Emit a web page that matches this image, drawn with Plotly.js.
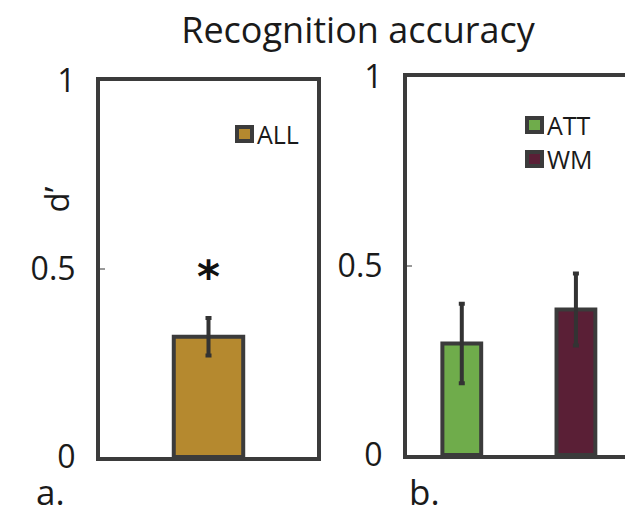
<!DOCTYPE html>
<html>
<head>
<meta charset="utf-8">
<script src="https://cdn.plot.ly/plotly-3.0.1.min.js"></script>
<style>html,body{margin:0;padding:0;background:#fff;overflow:hidden}#chart{width:625px;height:516px}</style>
</head>
<body>
<div id="chart"></div>
<script>
// ---- data ----
const allLabels = ['ALL'];
const allValues = [0.32];
const allErrors = [0.05];
const groupLabels = ['ATT', 'WM'];
const groupValues = [0.295, 0.385];
const groupErrors = [0.105, 0.095];
const yTickVals = [0, 0.5, 1];
const yTickText = ['0', '0.5', '1'];
const sigMarker = '*';

// ---- styles ----
const FONT = '"Open Sans", Lato, sans-serif';
const TXT = '#1a1a1a';
const EDGE = '#3b3b3b';
const colors = {ALL: '#b5892f', ATT: '#6fac4b', WM: '#5a1f36'};
const W = 625, H = 516;
const px = v => v / W;
const py = v => 1 - v / H;

function barTrace(label, value, err, xa, ya, width) {
  return {
    type: 'bar', name: label, x: [label], y: [value],
    xaxis: xa, yaxis: ya, width: width, showlegend: false,
    marker: {color: colors[label], line: {color: EDGE, width: 4}},
    error_y: {type: 'data', array: [err], visible: true, color: '#333', thickness: 4, width: 3},
    hoverinfo: 'skip'
  };
}

const traces = [];
allLabels.forEach((l, i) => traces.push(barTrace(l, allValues[i], allErrors[i], 'x', 'y', 0.32)));
groupLabels.forEach((l, i) => traces.push(barTrace(l, groupValues[i], groupErrors[i], 'x2', 'y2', 0.34)));

const yAxisBase = {
  range: [0, 1], tickvals: yTickVals, ticktext: yTickText,
  ticks: 'inside', ticklen: 5, tickwidth: 1.5, tickcolor: '#999',
  showline: true, linecolor: EDGE, linewidth: 4,
  showgrid: false, zeroline: false, fixedrange: true,
  tickfont: {family: FONT, size: 32, color: TXT},
  ticklabelstandoff: 14
};
const xAxisBase = {
  showline: true, linecolor: EDGE, linewidth: 4, mirror: true,
  showticklabels: false, ticks: '', showgrid: false, zeroline: false, fixedrange: true,
  type: 'category'
};

// ---- legend boxes (drawn as keyed squares + labels) ----
const legendItems = [
  {label: allLabels[0], x: 237, y: 134},
  {label: groupLabels[0], x: 527, y: 125},
  {label: groupLabels[1], x: 527, y: 159}
];
const shapes = [];
const annotations = [];
legendItems.forEach(it => {
  shapes.push({type: 'rect', xref: 'paper', yref: 'paper',
    x0: px(it.x), x1: px(it.x + 15), y0: py(it.y + 7), y1: py(it.y - 7),
    fillcolor: colors[it.label], line: {color: EDGE, width: 4}});
  annotations.push({text: it.label, xref: 'paper', yref: 'paper', x: px(it.x + 18), xanchor: 'left',
    y: py(it.y), yanchor: 'middle', showarrow: false, font: {family: FONT, size: 25, color: TXT}});
});

annotations.push(
  {text: 'd’', xref: 'paper', yref: 'paper', x: px(31), y: py(200), textangle: -90,
   showarrow: false, font: {family: FONT, size: 33, color: TXT}},
  {text: sigMarker, xref: 'x', yref: 'y', x: allLabels[0], y: 0.5, showarrow: false, yshift: -7,
   font: {family: '"DejaVu Sans", sans-serif', size: 44, color: '#111', weight: 'bold'}},
  {text: 'a.', xref: 'paper', yref: 'paper', x: px(35), xanchor: 'left', y: 0, yanchor: 'bottom',
   borderpad: 0, showarrow: false, font: {family: FONT, size: 35, color: TXT}},
  {text: 'b.', xref: 'paper', yref: 'paper', x: px(408), xanchor: 'left', y: 0, yanchor: 'bottom',
   borderpad: 0, showarrow: false, font: {family: FONT, size: 35, color: TXT}}
);

const layout = {
  width: W, height: H,
  margin: {l: 0, r: 0, t: 0, b: 0},
  paper_bgcolor: '#fff', plot_bgcolor: '#fff',
  barmode: 'overlay',
  showlegend: false,
  title: {text: 'Recognition accuracy', font: {family: FONT, size: 36, color: TXT},
          x: px(358), xanchor: 'center', y: py(30), yanchor: 'middle'},
  xaxis: Object.assign({}, xAxisBase, {domain: [px(100), px(317)], range: [-0.5, 0.5], anchor: 'y'}),
  yaxis: Object.assign({}, yAxisBase, {domain: [59 / H, 435 / H], anchor: 'x', mirror: true}),
  xaxis2: Object.assign({}, xAxisBase, {domain: [px(407), 1], range: [-0.48, 1.43], anchor: 'y2'}),
  yaxis2: Object.assign({}, yAxisBase, {domain: [61 / H, 439 / H], anchor: 'x2'}),
  shapes: shapes,
  annotations: annotations
};

Plotly.newPlot('chart', traces, layout, {displayModeBar: false, staticPlot: true});
</script>
</body>
</html>
